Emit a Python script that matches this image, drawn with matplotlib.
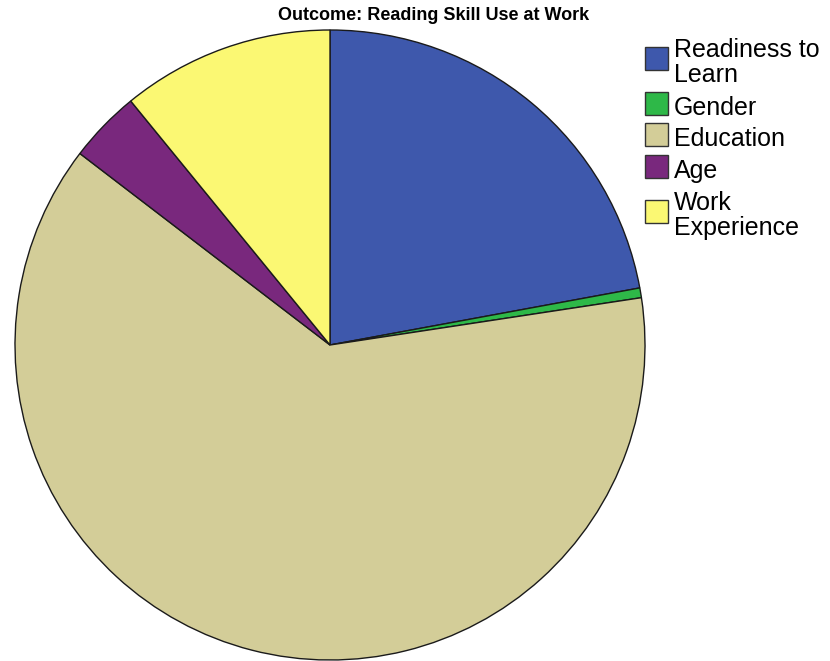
import matplotlib
matplotlib.use("Agg")
import matplotlib.pyplot as plt
from matplotlib.patches import Rectangle

# share of explained variance per predictor (percent)
labels = ["Readiness to\nLearn", "Gender", "Education", "Age", "Work\nExperience"]
shares = [22.1, 0.5, 62.8, 3.7, 10.9]
colors = ["#3E58AC", "#2EB848", "#D3CD98", "#79287D", "#FBF873"]

W, H = 830, 661
plt.rcParams["font.family"] = ["Liberation Sans", "DejaVu Sans"]

fig = plt.figure(figsize=(W / 100, H / 100), dpi=100)
ax = fig.add_axes([15 / W, 1 / H, 630 / W, 630 / H])

wedges, _ = ax.pie(
    shares,
    colors=colors,
    startangle=90,
    counterclock=False,
    radius=1.0,
    wedgeprops=dict(edgecolor="#1a1a1a", linewidth=1.0),
)
ax.set_xlim(-1.0, 1.0)
ax.set_ylim(-1.0, 1.0)
ax.set_aspect("equal")

fig.text(434 / W, 1 - 20 / H, "Outcome: Reading Skill Use at Work",
         ha="center", va="baseline", fontsize=13, fontweight="bold")

# hand-placed legend: swatch top (px from top) for each entry
box_tops = [47, 92, 123, 155, 200]
box_size = 23
line_pitch = 25
for label, color, top in zip(labels, colors, box_tops):
    fig.patches.append(Rectangle(
        (645 / W, 1 - (top + box_size) / H), box_size / W, box_size / H,
        transform=fig.transFigure, facecolor=color, edgecolor="#333333",
        linewidth=1.0))
    lines = label.split("\n")
    if len(lines) == 1:
        first_base = top + box_size
    else:
        first_base = top + box_size / 2 + 11 - line_pitch / 2 * (len(lines) - 1)
    for k, line in enumerate(lines):
        fig.text(674 / W, 1 - (first_base + k * line_pitch) / H, line,
                 ha="left", va="baseline", fontsize=18)

fig.savefig("out.png", dpi=100)
